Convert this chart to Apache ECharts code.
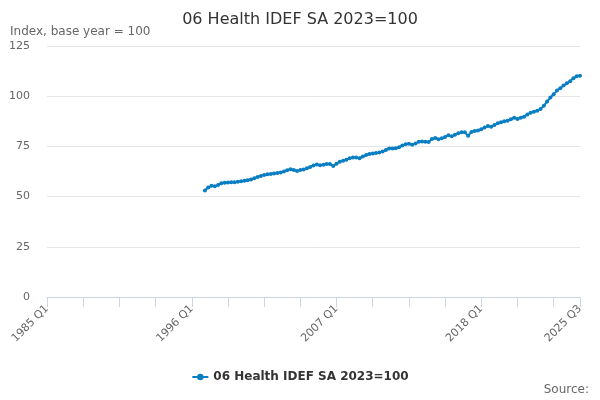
<!DOCTYPE html>
<html>
<head>
<meta charset="utf-8">
<script src="https://cdn.jsdelivr.net/npm/echarts@6/dist/echarts.min.js"></script>
<style>
html,body{margin:0;padding:0;background:#fff;}
#chart{width:600px;height:400px;}
</style>
</head>
<body>
<div id="chart"></div>
<script>
const titleText = "06 Health IDEF SA 2023=100";
const subtitleText = "Index, base year = 100";
const seriesName = "06 Health IDEF SA 2023=100";
const startYear = 1985;
const endYear = 2025;
const endQuarter = 3;
const firstDataLabel = "1997 Q1";
const yTicks = [0, 25, 50, 75, 100, 125];
// Values from 1997 Q1 to 2025 Q3
const values = [
  53.0, 54.5, 55.4, 55.1, 55.8, 56.7, 56.9, 57.0,
  57.1, 57.1, 57.4, 57.6, 57.9, 58.1, 58.5, 59.1,
  59.8, 60.3, 60.8, 61.1, 61.3, 61.5, 61.7, 62.0,
  62.5, 63.1, 63.6, 63.2, 62.8, 63.2, 63.5, 64.1,
  64.7, 65.5, 66.0, 65.6, 65.8, 66.2, 66.2, 65.3,
  66.4, 67.4, 67.9, 68.4, 69.1, 69.5, 69.5, 69.1,
  70.0, 70.7, 71.2, 71.5, 71.7, 71.9, 72.4, 73.2,
  73.9, 74.0, 74.1, 74.6, 75.4, 76.1, 76.3, 75.8,
  76.5, 77.3, 77.4, 77.3, 77.2, 78.7, 79.2, 78.6,
  79.0, 79.7, 80.5, 80.0, 80.8, 81.6, 82.0, 82.0,
  80.3, 82.2, 82.7, 82.9, 83.6, 84.4, 85.1, 84.8,
  85.7, 86.5, 87.0, 87.5, 87.8, 88.5, 89.3, 88.6,
  89.3, 89.8, 90.9, 91.7, 92.3, 92.8, 93.6, 95.2,
  97.4, 99.3, 101.0, 102.8, 104.0, 105.3, 106.4, 107.5,
  109.0, 109.9, 110.2
];

const categories = [];
for (let y = startYear; y <= endYear; y++) {
  for (let q = 1; q <= 4; q++) {
    if (y === endYear && q > endQuarter) break;
    categories.push(y + " Q" + q);
  }
}
const startIdx = categories.indexOf(firstDataLabel);
const seriesData = categories.map((c, i) => (i >= startIdx && i - startIdx < values.length) ? values[i - startIdx] : null);
const lastIdx = categories.length - 1;

const chart = echarts.init(document.getElementById('chart'), null, {renderer: 'canvas'});
const font = "DejaVu Sans";
chart.setOption({
  animation: false,
  backgroundColor: '#ffffff',
  textStyle: {fontFamily: font},
  title: [
    {text: titleText, left: 'center', top: 7, textStyle: {fontFamily: font, fontSize: 16, fontWeight: 'normal', color: '#333333'}},
    {text: subtitleText, left: 5, top: 21, textStyle: {fontFamily: font, fontSize: 12, fontWeight: 'normal', color: '#666666'}},
    {text: 'Source:', right: 6, top: 379, textStyle: {fontFamily: font, fontSize: 12, fontWeight: 'normal', color: '#666666'}}
  ],
  legend: {
    data: [seriesName],
    left: 'center',
    top: 366,
    itemWidth: 16,
    itemHeight: 8,
    textStyle: {fontFamily: font, fontSize: 12, fontWeight: 'bold', color: '#333333'}
  },
  grid: {left: 47, right: 20, top: 46, bottom: 103, containLabel: false},
  xAxis: {
    type: 'category',
    data: categories,
    boundaryGap: false,
    axisLine: {lineStyle: {color: '#ccd6eb'}},
    axisTick: {
      length: 10,
      lineStyle: {color: '#ccd6eb'},
      interval: (i) => i % 11 === 0 || i === lastIdx
    },
    axisLabel: {
      rotate: 45,
      color: '#666666',
      fontSize: 11,
      fontFamily: font,
      margin: 10,
      interval: (i) => i % 44 === 0 || i === lastIdx
    },
    splitLine: {show: false}
  },
  yAxis: {
    type: 'value',
    min: 0,
    max: 125,
    interval: 25,
    axisLine: {show: false},
    axisTick: {show: false},
    axisLabel: {color: '#666666', fontSize: 11, fontFamily: font, margin: 17},
    splitLine: {lineStyle: {color: '#e6e6e6'}}
  },
  series: [{
    name: seriesName,
    type: 'line',
    data: seriesData,
    connectNulls: false,
    color: '#0a7ec2',
    lineStyle: {width: 2, color: '#0a7ec2'},
    symbol: 'circle',
    symbolSize: 4,
    showSymbol: true,
    showAllSymbol: true,
    itemStyle: {color: '#0a7ec2'}
  }]
});
</script>
</body>
</html>
